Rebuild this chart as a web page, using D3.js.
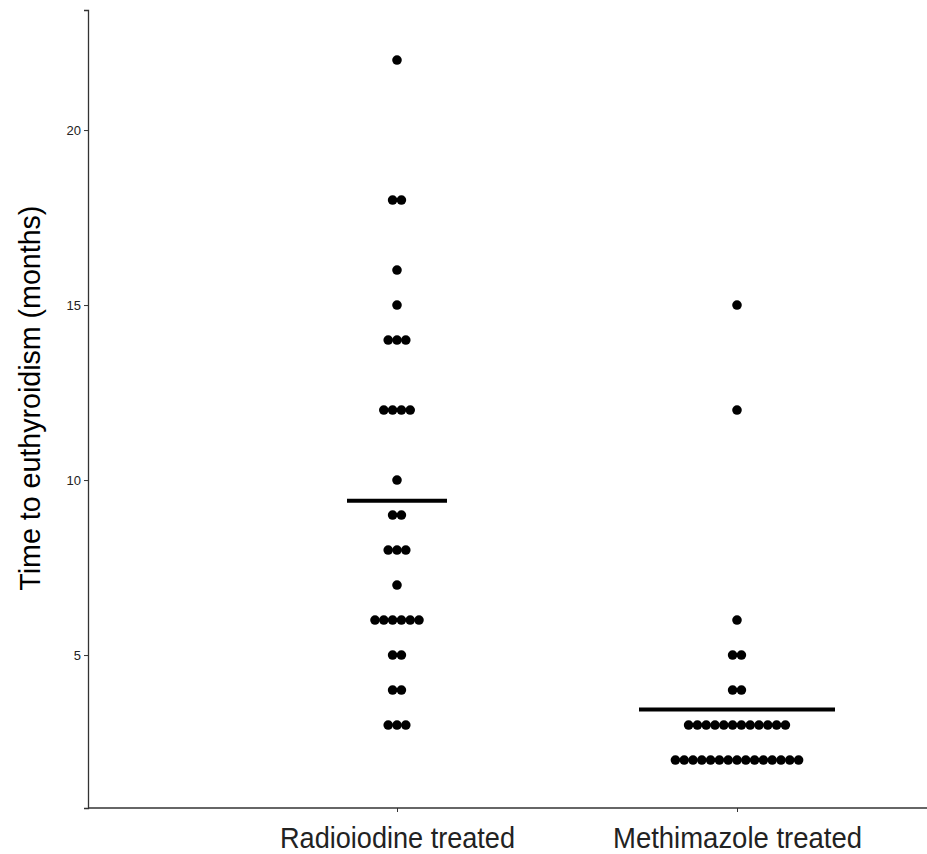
<!DOCTYPE html>
<html>
<head>
<meta charset="utf-8">
<script src="https://cdn.jsdelivr.net/npm/d3@7"></script>
<style>
  body { margin: 0; background: #fff; }
  svg { display: block; font-family: "Liberation Sans", Arial, sans-serif; }
  .axis path, .axis line { stroke: #333; }
  .axis text { fill: #222; }
</style>
</head>
<body>
<div id="chart"></div>
<script>
// groups on the x axis
var groups = ["Radioiodine treated", "Methimazole treated"];

// time to euthyroidism (months), one value per patient
var radioiodine = [22, 18, 18, 16, 15, 14, 14, 14, 12, 12, 12, 12, 10, 9, 9,
  8, 8, 8, 7, 6, 6, 6, 6, 6, 6, 5, 5, 4, 4, 3, 3, 3];
var methimazole = [15, 12, 6, 5, 5, 4, 4,
  3, 3, 3, 3, 3, 3, 3, 3, 3, 3, 3, 3,
  2, 2, 2, 2, 2, 2, 2, 2, 2, 2, 2, 2, 2, 2, 2];

var yTicks = [5, 10, 15, 20];
var yTitle = "Time to euthyroidism (months)";

var width = 927, height = 854;
var margin = { top: 10, right: 0, bottom: 46, left: 88 };
var w = width - margin.left - margin.right;
var h = height - margin.top - margin.bottom;

var svg = d3.select("#chart").append("svg")
  .attr("width", width)
  .attr("height", height);

var g = svg.append("g").attr("transform", `translate(${margin.left},${margin.top})`);

var x = d3.scalePoint().domain(groups).range([309, 649]);
var y = d3.scaleLinear().domain([0.63, 23.43]).range([h, 0]);

// half width of each mean bar, and label widths (the original text is condensed)
var barHalf = { "Radioiodine treated": 50, "Methimazole treated": 98 };
var labelLen = { "Radioiodine treated": 235, "Methimazole treated": 249 };

var series = [
  { name: groups[0], values: radioiodine },
  { name: groups[1], values: methimazole }
];

var dotR = 4.8, step = 8.8;

series.forEach(function(s) {
  var rows = d3.rollups(s.values, function(v) { return v.length; }, function(d) { return d; });
  var pts = [];
  rows.forEach(function(r) {
    for (var i = 0; i < r[1]; i++) {
      pts.push({ v: r[0], off: (i - (r[1] - 1) / 2) * step });
    }
  });

  g.selectAll(null)
    .data(pts)
    .enter().append("circle")
    .attr("cx", function(d) { return x(s.name) + d.off; })
    .attr("cy", function(d) { return y(d.v); })
    .attr("r", dotR)
    .attr("fill", "#000");

  var m = d3.mean(s.values);
  g.append("line")
    .attr("x1", x(s.name) - barHalf[s.name])
    .attr("x2", x(s.name) + barHalf[s.name])
    .attr("y1", y(m))
    .attr("y2", y(m))
    .attr("stroke", "#000")
    .attr("stroke-width", 4);
});

// axes
var yAxis = g.append("g").attr("class", "axis")
  .call(d3.axisLeft(y).tickValues(yTicks).tickSize(4).tickPadding(3));
yAxis.selectAll("text").style("font-size", "13px");
yAxis.select(".domain").attr("stroke-width", 1.3);

var xAxis = g.append("g").attr("class", "axis")
  .attr("transform", `translate(0,${h})`)
  .call(d3.axisBottom(x).tickSize(4).tickPadding(15));
xAxis.select(".domain").attr("d", `M0.5,0H${w}`).attr("stroke-width", 1.3);
xAxis.selectAll("text")
  .style("font-size", "29px")
  .attr("fill", "#000")
  .attr("textLength", function(d) { return labelLen[d]; })
  .attr("lengthAdjust", "spacingAndGlyphs");

svg.append("text")
  .attr("transform", `translate(40,${margin.top + y(12.34)}) rotate(-90)`)
  .attr("text-anchor", "middle")
  .attr("textLength", 385)
  .attr("lengthAdjust", "spacingAndGlyphs")
  .style("font-size", "29px")
  .text(yTitle);
</script>
</body>
</html>
